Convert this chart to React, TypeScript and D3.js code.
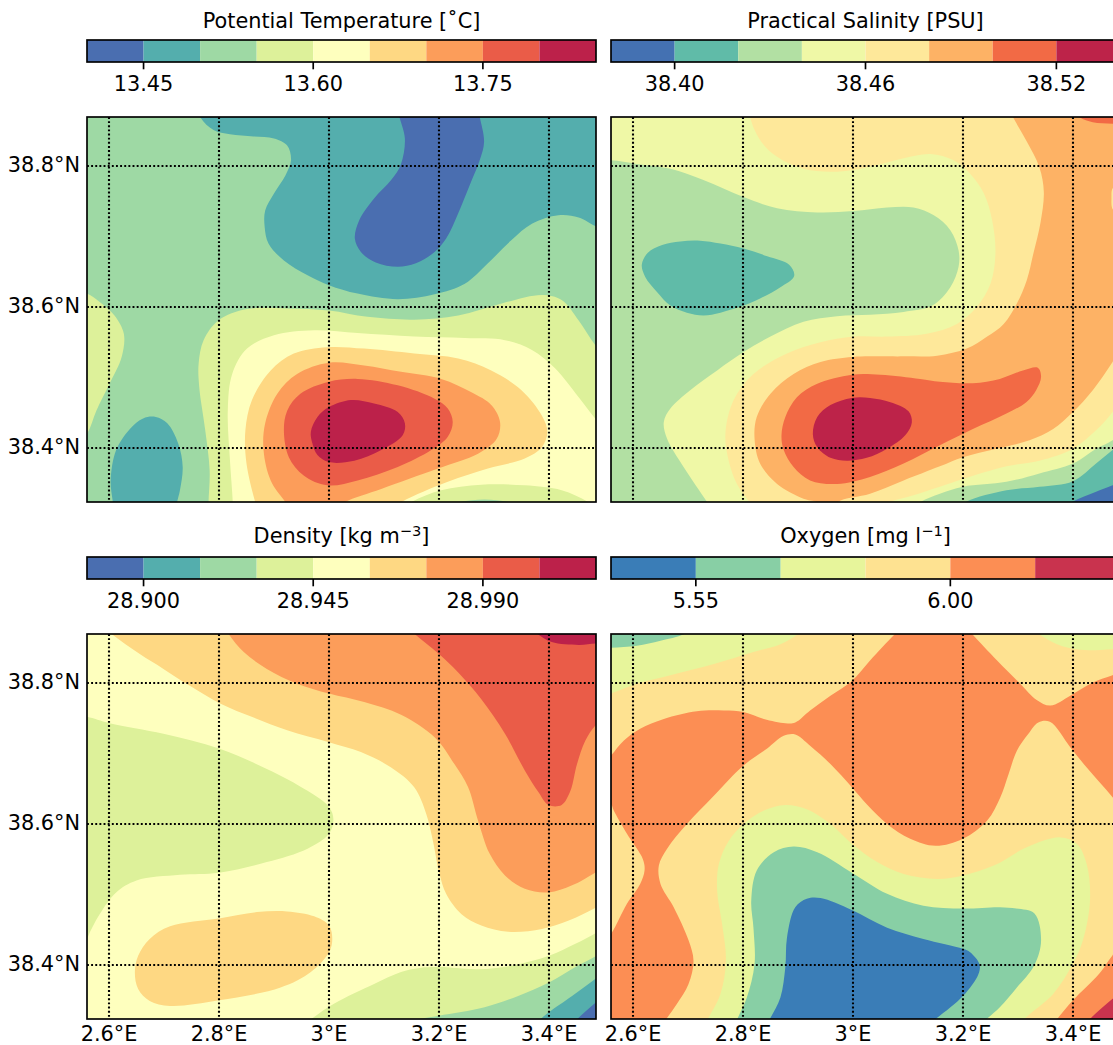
import React from "react";
import * as d3 from "d3";

type Pt = [number, number];

// ---- axis values
const lonTicks = [2.6, 2.8, 3.0, 3.2, 3.4];
const latTicks = [38.4, 38.6, 38.8];
const lonDomain: Pt = [2.56, 3.4855];
const latDomain: Pt = [38.3234, 38.8695];

// ---- colour levels
const spectral9 = ["#4a6eb0", "#54aead", "#9ed9a4", "#ddf19a", "#feffbe", "#fed883", "#fc9d5a", "#ea5c48", "#bc214a"];
const spectral8 = ["#4471b2", "#60bba8", "#b2e0a3", "#eff8a6", "#fee89a", "#fdb265", "#f26a45", "#bd2349"];
const spectral6 = ["#3a7db7", "#88cfa5", "#e7f59b", "#fee291", "#fc8e54", "#c9334e"];

const tempBounds = [13.4, 13.45, 13.5, 13.55, 13.6, 13.65, 13.7, 13.75, 13.8, 13.85];
const tempTicks = [13.45, 13.6, 13.75];
const salBounds = [38.38, 38.4, 38.42, 38.44, 38.46, 38.48, 38.5, 38.52, 38.54];
const salTicks = [38.4, 38.46, 38.52];
const densBounds = [28.885, 28.9, 28.915, 28.93, 28.945, 28.96, 28.975, 28.99, 29.005, 29.02];
const densTicks = [28.9, 28.945, 28.99];
const oxyBounds = [5.4, 5.55, 5.7, 5.85, 6.0, 6.15, 6.3];
const oxyTicks = [5.55, 6.0];

// ---- Potential temperature contours (lon, lat)
const tempTealTop: Pt[] = [[2.745,38.92],[2.766,38.869],[2.79,38.851],[2.82,38.845],[2.863,38.842],[2.9,38.839],[2.924,38.829],[2.931,38.808],[2.921,38.787],[2.9,38.761],[2.884,38.737],[2.883,38.714],[2.89,38.69],[2.918,38.666],[2.961,38.645],[3.0,38.631],[3.052,38.619],[3.125,38.611],[3.192,38.618],[3.247,38.633],[3.289,38.662],[3.332,38.695],[3.369,38.718],[3.417,38.73],[3.454,38.727],[3.487,38.714],[3.55,38.7],[3.55,38.92]];
const tempBlue: Pt[] = [[3.122,38.893],[3.128,38.87],[3.138,38.839],[3.131,38.803],[3.113,38.78],[3.082,38.754],[3.055,38.723],[3.047,38.697],[3.058,38.678],[3.085,38.663],[3.125,38.657],[3.158,38.662],[3.192,38.678],[3.213,38.697],[3.235,38.733],[3.256,38.773],[3.274,38.808],[3.282,38.834],[3.274,38.87],[3.268,38.893]];
const tempLeftEdge: Pt[] = [[2.528,38.624],[2.56,38.619],[2.583,38.607],[2.61,38.588],[2.627,38.562],[2.623,38.529],[2.601,38.491],[2.577,38.453],[2.56,38.42],[2.528,38.39]];
const tempTealLow: Pt[] = [[2.61,38.302],[2.607,38.323],[2.603,38.354],[2.613,38.397],[2.638,38.427],[2.662,38.442],[2.685,38.444],[2.706,38.435],[2.726,38.406],[2.734,38.373],[2.729,38.34],[2.723,38.321],[2.718,38.302]];
const temp13_55: Pt[] = [[2.781,38.297],[2.781,38.323],[2.783,38.368],[2.775,38.425],[2.764,38.487],[2.763,38.52],[2.772,38.553],[2.799,38.581],[2.851,38.597],[2.924,38.598],[3.0,38.595],[3.07,38.586],[3.155,38.582],[3.235,38.588],[3.314,38.605],[3.387,38.617],[3.423,38.61],[3.454,38.581],[3.484,38.546],[3.521,38.51],[3.521,38.297]];
const temp13_60: Pt[] = [[2.825,38.297],[2.825,38.323],[2.82,38.382],[2.816,38.453],[2.824,38.505],[2.851,38.541],[2.9,38.56],[2.973,38.567],[3.052,38.563],[3.155,38.558],[3.247,38.556],[3.32,38.553],[3.369,38.539],[3.411,38.513],[3.454,38.472],[3.484,38.442],[3.521,38.411],[3.521,38.297]];
const temp13_65: Pt[] = [[2.875,38.302],[2.866,38.323],[2.85,38.378],[2.848,38.425],[2.86,38.468],[2.894,38.51],[2.936,38.534],[2.997,38.543],[3.064,38.541],[3.155,38.534],[3.235,38.527],[3.295,38.51],[3.35,38.482],[3.387,38.446],[3.397,38.423],[3.387,38.401],[3.356,38.385],[3.289,38.371],[3.216,38.352],[3.131,38.323],[3.09,38.302]];
const temp13_70: Pt[] = [[2.94,38.302],[2.921,38.323],[2.894,38.354],[2.881,38.397],[2.884,38.435],[2.906,38.477],[2.942,38.505],[3.0,38.521],[3.064,38.517],[3.131,38.508],[3.204,38.498],[3.259,38.479],[3.295,38.461],[3.311,38.437],[3.305,38.413],[3.271,38.392],[3.198,38.371],[3.095,38.342],[3.028,38.323],[2.99,38.302]];
const temp13_75: Pt[] = [[2.918,38.425],[2.924,38.453],[2.948,38.477],[3.0,38.494],[3.052,38.498],[3.125,38.489],[3.192,38.47],[3.216,38.456],[3.225,38.437],[3.216,38.416],[3.186,38.397],[3.125,38.373],[3.052,38.354],[2.997,38.347],[2.954,38.361],[2.927,38.387]];
const temp13_80: Pt[] = [[2.967,38.423],[2.979,38.444],[3.0,38.458],[3.04,38.468],[3.082,38.463],[3.125,38.451],[3.138,38.435],[3.134,38.418],[3.095,38.397],[3.046,38.382],[3.0,38.38],[2.979,38.39],[2.97,38.406]];
const tempBump: Pt[] = [[3.11,38.302],[3.149,38.323],[3.204,38.34],[3.277,38.348],[3.356,38.347],[3.423,38.34],[3.472,38.323],[3.51,38.302]];
const tempBumpCore: Pt[] = [[3.19,38.312],[3.235,38.323],[3.283,38.327],[3.329,38.323],[3.37,38.312]];

// ---- Practical salinity contours
const salGreen: Pt[] = [[2.528,38.808],[2.56,38.808],[2.607,38.803],[2.668,38.796],[2.728,38.78],[2.801,38.756],[2.862,38.74],[2.935,38.734],[3.001,38.736],[3.062,38.741],[3.11,38.741],[3.147,38.73],[3.177,38.709],[3.192,38.68],[3.192,38.657],[3.177,38.628],[3.144,38.602],[3.092,38.593],[3.031,38.589],[2.971,38.587],[2.91,38.579],[2.85,38.558],[2.801,38.536],[2.753,38.51],[2.704,38.482],[2.668,38.456],[2.656,38.437],[2.662,38.413],[2.692,38.373],[2.735,38.323],[2.752,38.302],[2.528,38.302]];
const salTeal: Pt[] = [[2.616,38.66],[2.627,38.677],[2.653,38.688],[2.686,38.693],[2.722,38.694],[2.759,38.69],[2.801,38.683],[2.844,38.672],[2.884,38.66],[2.893,38.644],[2.868,38.628],[2.831,38.612],[2.801,38.602],[2.759,38.592],[2.728,38.588],[2.698,38.592],[2.668,38.602],[2.644,38.621],[2.622,38.643]];
const sal38_46: Pt[] = [[2.813,38.893],[2.813,38.87],[2.831,38.837],[2.862,38.813],[2.91,38.796],[2.971,38.792],[3.031,38.799],[3.092,38.811],[3.141,38.817],[3.183,38.808],[3.213,38.789],[3.238,38.761],[3.253,38.723],[3.259,38.676],[3.25,38.633],[3.225,38.6],[3.189,38.576],[3.134,38.562],[3.062,38.558],[3.001,38.558],[2.941,38.55],[2.88,38.534],[2.819,38.505],[2.783,38.468],[2.768,38.42],[2.774,38.382],[2.789,38.349],[2.813,38.322],[2.83,38.302],[3.02,38.302],[3.062,38.322],[3.11,38.333],[3.158,38.345],[3.2,38.356],[3.279,38.374],[3.339,38.382],[3.4,38.399],[3.442,38.425],[3.472,38.451],[3.516,38.501],[3.516,38.893]];
const sal38_48: Pt[] = [[3.275,38.893],[3.291,38.869],[3.315,38.836],[3.339,38.798],[3.347,38.763],[3.341,38.72],[3.328,38.676],[3.316,38.638],[3.298,38.605],[3.274,38.576],[3.244,38.558],[3.207,38.541],[3.153,38.531],[3.092,38.53],[3.031,38.53],[2.998,38.529],[2.941,38.522],[2.892,38.505],[2.85,38.477],[2.825,38.444],[2.821,38.413],[2.831,38.378],[2.862,38.349],[2.91,38.328],[2.935,38.322],[2.935,38.302],[2.971,38.302],[2.971,38.322],[3.031,38.335],[3.092,38.354],[3.158,38.374],[3.2,38.387],[3.261,38.399],[3.321,38.411],[3.364,38.427],[3.4,38.451],[3.436,38.482],[3.472,38.522],[3.516,38.576],[3.516,38.893]];
const salNotch: Pt[] = [[3.516,38.77],[3.474,38.77],[3.47,38.754],[3.474,38.737],[3.516,38.737]];
const salTopRed: Pt[] = [[3.39,38.886],[3.412,38.869],[3.436,38.862],[3.472,38.86],[3.516,38.86],[3.516,38.886]];
const sal38_50: Pt[] = [[2.87,38.418],[2.877,38.444],[2.898,38.472],[2.935,38.491],[2.998,38.504],[3.05,38.504],[3.122,38.498],[3.158,38.494],[3.218,38.492],[3.267,38.498],[3.309,38.51],[3.336,38.514],[3.342,38.501],[3.333,38.482],[3.315,38.465],[3.279,38.449],[3.218,38.427],[3.158,38.404],[3.092,38.378],[3.031,38.359],[2.971,38.349],[2.922,38.354],[2.892,38.373],[2.874,38.397]];
const sal38_52: Pt[] = [[2.927,38.42],[2.935,38.444],[2.959,38.461],[2.998,38.471],[3.031,38.471],[3.068,38.465],[3.101,38.452],[3.107,38.436],[3.095,38.418],[3.062,38.399],[3.025,38.386],[2.989,38.382],[2.959,38.386],[2.935,38.401]];
const salCornerGreen: Pt[] = [[3.08,38.302],[3.119,38.322],[3.158,38.335],[3.2,38.345],[3.279,38.352],[3.339,38.364],[3.4,38.378],[3.442,38.399],[3.472,38.411],[3.516,38.439],[3.516,38.302]];
const salCornerTeal: Pt[] = [[3.17,38.302],[3.204,38.323],[3.279,38.34],[3.339,38.345],[3.4,38.353],[3.442,38.378],[3.472,38.397],[3.516,38.425],[3.516,38.302]];
const salCornerBlue: Pt[] = [[3.36,38.302],[3.4,38.324],[3.442,38.338],[3.472,38.347],[3.516,38.364],[3.516,38.302]];

// ---- Density contours
const dens28_96: Pt[] = [[2.57,38.893],[2.604,38.87],[2.656,38.841],[2.699,38.82],[2.747,38.796],[2.802,38.771],[2.863,38.751],[2.924,38.733],[3.0,38.716],[3.058,38.702],[3.113,38.68],[3.155,38.652],[3.177,38.614],[3.189,38.576],[3.201,38.529],[3.213,38.501],[3.241,38.472],[3.277,38.456],[3.326,38.447],[3.387,38.451],[3.436,38.463],[3.484,38.481],[3.521,38.496],[3.521,38.893]];
const dens28_975: Pt[] = [[2.8,38.893],[2.817,38.87],[2.845,38.844],[2.887,38.82],[2.942,38.799],[3.0,38.785],[3.064,38.773],[3.131,38.755],[3.192,38.723],[3.228,38.685],[3.253,38.652],[3.271,38.605],[3.292,38.558],[3.32,38.527],[3.356,38.508],[3.399,38.503],[3.442,38.513],[3.484,38.531],[3.521,38.548],[3.521,38.893]];
const dens28_99: Pt[] = [[3.12,38.893],[3.155,38.87],[3.2,38.841],[3.235,38.815],[3.277,38.777],[3.32,38.728],[3.356,38.676],[3.381,38.645],[3.399,38.627],[3.423,38.627],[3.439,38.647],[3.451,38.685],[3.466,38.718],[3.487,38.742],[3.521,38.761],[3.521,38.893]];
const dens29_005: Pt[] = [[3.35,38.886],[3.378,38.87],[3.405,38.858],[3.454,38.854],[3.487,38.856],[3.521,38.856],[3.521,38.886]];
const densLeft: Pt[] = [[2.528,38.756],[2.56,38.752],[2.601,38.743],[2.699,38.728],[2.8,38.707],[2.887,38.678],[2.961,38.647],[3.0,38.624],[3.008,38.607],[3.0,38.586],[2.961,38.565],[2.887,38.546],[2.8,38.531],[2.729,38.528],[2.65,38.52],[2.613,38.503],[2.583,38.472],[2.56,38.437],[2.54,38.39],[2.528,38.39]];
const densBlob: Pt[] = [[2.647,38.39],[2.653,38.413],[2.674,38.437],[2.711,38.455],[2.8,38.466],[2.869,38.475],[2.924,38.476],[2.973,38.469],[3.0,38.456],[3.006,38.437],[3.0,38.418],[2.967,38.39],[2.912,38.368],[2.8,38.35],[2.711,38.342],[2.674,38.349],[2.653,38.366]];
const densLow1: Pt[] = [[2.93,38.302],[2.967,38.323],[3.009,38.345],[3.082,38.373],[3.131,38.39],[3.168,38.396],[3.2,38.397],[3.271,38.394],[3.332,38.399],[3.4,38.413],[3.448,38.43],[3.487,38.446],[3.521,38.463],[3.521,38.302]];
const densLow2: Pt[] = [[3.1,38.312],[3.161,38.323],[3.2,38.328],[3.283,38.34],[3.344,38.356],[3.4,38.375],[3.448,38.397],[3.484,38.412],[3.521,38.43],[3.521,38.302]];
const densLow3: Pt[] = [[3.355,38.302],[3.384,38.323],[3.4,38.333],[3.442,38.356],[3.484,38.38],[3.521,38.401],[3.521,38.302]];
const densLow4: Pt[] = [[3.425,38.302],[3.451,38.323],[3.484,38.346],[3.521,38.368],[3.521,38.302]];

// ---- Oxygen contours
const oxy6_00: Pt[] = [[2.528,38.67],[2.56,38.697],[2.583,38.718],[2.613,38.735],[2.656,38.749],[2.716,38.76],[2.765,38.761],[2.801,38.759],[2.838,38.749],[2.877,38.743],[2.895,38.744],[2.922,38.761],[2.959,38.782],[2.998,38.803],[3.031,38.832],[3.077,38.87],[3.108,38.893],[3.19,38.893],[3.216,38.87],[3.262,38.832],[3.304,38.799],[3.334,38.776],[3.359,38.768],[3.395,38.782],[3.437,38.801],[3.472,38.811],[3.516,38.822],[3.516,38.595],[3.472,38.638],[3.425,38.68],[3.395,38.709],[3.358,38.745],[3.337,38.744],[3.319,38.728],[3.298,38.704],[3.283,38.671],[3.268,38.638],[3.244,38.605],[3.2,38.579],[3.15,38.569],[3.104,38.579],[3.062,38.6],[3.025,38.628],[2.998,38.652],[2.959,38.685],[2.922,38.711],[2.895,38.727],[2.874,38.725],[2.844,38.707],[2.801,38.683],[2.747,38.64],[2.698,38.6],[2.662,38.565],[2.647,38.541],[2.65,38.515],[2.674,38.482],[2.701,38.435],[2.71,38.406],[2.701,38.373],[2.68,38.345],[2.659,38.322],[2.637,38.302],[2.528,38.302],[2.528,38.411],[2.56,38.444],[2.589,38.487],[2.613,38.515],[2.621,38.534],[2.618,38.55],[2.589,38.586],[2.565,38.619],[2.56,38.628],[2.528,38.64]];
const oxyTopLeft: Pt[] = [[2.528,38.777],[2.56,38.785],[2.607,38.799],[2.668,38.811],[2.747,38.827],[2.819,38.844],[2.868,38.855],[2.901,38.87],[2.93,38.893],[2.528,38.893]];
const oxyTopLeftCore: Pt[] = [[2.528,38.848],[2.56,38.85],[2.607,38.853],[2.65,38.86],[2.695,38.87],[2.74,38.893],[2.528,38.893]];
const oxyTopRight: Pt[] = [[3.31,38.886],[3.337,38.87],[3.371,38.855],[3.413,38.847],[3.472,38.848],[3.516,38.851],[3.516,38.886]];
const oxy5_85: Pt[] = [[2.722,38.302],[2.735,38.322],[2.759,38.359],[2.769,38.406],[2.762,38.458],[2.753,38.505],[2.756,38.543],[2.774,38.576],[2.801,38.6],[2.838,38.619],[2.877,38.627],[2.916,38.621],[2.959,38.6],[2.998,38.572],[3.044,38.546],[3.092,38.529],[3.153,38.522],[3.2,38.527],[3.256,38.541],[3.316,38.567],[3.377,38.581],[3.407,38.572],[3.425,38.543],[3.431,38.492],[3.418,38.435],[3.4,38.402],[3.364,38.359],[3.315,38.326],[3.285,38.302]];
const oxy5_70: Pt[] = [[2.78,38.302],[2.789,38.322],[2.807,38.354],[2.821,38.401],[2.819,38.453],[2.815,38.491],[2.825,38.534],[2.856,38.56],[2.892,38.568],[2.935,38.56],[2.998,38.531],[3.062,38.501],[3.128,38.484],[3.2,38.48],[3.267,38.482],[3.297,38.48],[3.33,38.473],[3.342,38.435],[3.33,38.4],[3.298,38.368],[3.267,38.34],[3.241,38.322],[3.212,38.302]];
const oxy5_55: Pt[] = [[2.835,38.302],[2.848,38.322],[2.868,38.354],[2.877,38.397],[2.88,38.439],[2.895,38.482],[2.916,38.494],[2.941,38.495],[2.998,38.478],[3.062,38.453],[3.128,38.437],[3.2,38.423],[3.213,38.418],[3.23,38.401],[3.228,38.387],[3.2,38.356],[3.148,38.322],[3.115,38.302]];
const oxyCorner: Pt[] = [[3.35,38.302],[3.373,38.325],[3.4,38.35],[3.448,38.388],[3.472,38.414],[3.516,38.453],[3.516,38.302]];
const oxyCornerCore: Pt[] = [[3.405,38.302],[3.433,38.325],[3.472,38.352],[3.516,38.378],[3.516,38.302]];

// ---- layers: [colour level, contour], drawn in order
const tempLayers: [number, Pt[]][] = [[1, tempTealTop], [0, tempBlue], [3, tempLeftEdge], [1, tempTealLow], [3, temp13_55], [4, temp13_60], [5, temp13_65], [6, temp13_70], [7, temp13_75], [8, temp13_80], [3, tempBump], [2, tempBumpCore]];
const salLayers: [number, Pt[]][] = [[2, salGreen], [1, salTeal], [4, sal38_46], [5, sal38_48], [4, salNotch], [6, salTopRed], [6, sal38_50], [7, sal38_52], [2, salCornerGreen], [1, salCornerTeal], [0, salCornerBlue]];
const densLayers: [number, Pt[]][] = [[5, dens28_96], [6, dens28_975], [7, dens28_99], [8, dens29_005], [3, densLeft], [5, densBlob], [3, densLow1], [2, densLow2], [1, densLow3], [0, densLow4]];
const oxyLayers: [number, Pt[]][] = [[4, oxy6_00], [2, oxyTopLeft], [1, oxyTopLeftCore], [2, oxyTopRight], [2, oxy5_85], [1, oxy5_70], [0, oxy5_55], [4, oxyCorner], [5, oxyCornerCore]];

const FONT = "'DejaVu Sans', sans-serif";
const FS = 20.83;
const INK = "#000";
const SPINE = 1.67;

function Title({ x, y, name, unit, sup }: { x: number; y: number; name: string; unit: string; sup?: string }) {
  return (
    <text x={x} y={y} textAnchor="middle" fontFamily={FONT} fontSize={FS} fill={INK}>
      {name} [{unit}
      {sup ? (
        <tspan fontSize={14.6} dy={-7.5}>
          {sup}
        </tspan>
      ) : null}
      {sup ? <tspan dy={7.5}>]</tspan> : "]"}
    </text>
  );
}

function Colorbar({ x0, x1, y0, y1, bounds, ticks, colors, digits }: { x0: number; x1: number; y0: number; y1: number; bounds: number[]; ticks: number[]; colors: string[]; digits: number }) {
  const x = d3.scaleLinear().domain([bounds[0], bounds[bounds.length - 1]]).range([x0, x1]);
  const fmt = d3.format(`.${digits}f`);
  return (
    <g>
      {colors.map((c, i) => (
        <rect key={i} x={x(bounds[i])} y={y0} width={x(bounds[i + 1]) - x(bounds[i])} height={y1 - y0} fill={c} />
      ))}
      <rect x={x0} y={y0} width={x1 - x0} height={y1 - y0} fill="none" stroke={INK} strokeWidth={SPINE} />
      {ticks.map((t) => (
        <g key={t}>
          <line x1={x(t)} x2={x(t)} y1={y1} y2={y1 + 7.3} stroke={INK} strokeWidth={SPINE} />
          <text x={x(t)} y={y1 + 28.5} textAnchor="middle" fontFamily={FONT} fontSize={FS} fill={INK}>
            {fmt(t)}
          </text>
        </g>
      ))}
    </g>
  );
}

function MapPanel({ id, x0, x1, y0, y1, layers, colors, base, showLat, showLon }: { id: string; x0: number; x1: number; y0: number; y1: number; layers: [number, Pt[]][]; colors: string[]; base: number; showLat: boolean; showLon: boolean }) {
  const lon = d3.scaleLinear().domain(lonDomain).range([x0, x1]);
  const lat = d3.scaleLinear().domain(latDomain).range([y1, y0]);
  const path = d3
    .line<Pt>()
    .x((d) => lon(d[0]))
    .y((d) => lat(d[1]))
    .curve(d3.curveCatmullRomClosed.alpha(0.5));
  const lonLabel = (v: number) => `${d3.format(".1~f")(v)}°E`;
  const latLabel = (v: number) => `${d3.format(".1f")(v)}°N`;
  return (
    <g>
      <clipPath id={id}>
        <rect x={x0} y={y0} width={x1 - x0} height={y1 - y0} />
      </clipPath>
      <g clipPath={`url(#${id})`}>
        <rect x={x0} y={y0} width={x1 - x0} height={y1 - y0} fill={colors[base]} />
        {layers.map(([lvl, ring], i) => (
          <path key={i} d={path(ring) || ""} fill={colors[lvl]} />
        ))}
        {lonTicks.map((t) => (
          <line key={t} x1={lon(t)} x2={lon(t)} y1={y0} y2={y1} stroke={INK} strokeWidth={2.1} strokeDasharray="1.9 2.24" />
        ))}
        {latTicks.map((t) => (
          <line key={t} x1={x0} x2={x1} y1={lat(t)} y2={lat(t)} stroke={INK} strokeWidth={2.1} strokeDasharray="1.9 2.24" />
        ))}
      </g>
      <rect x={x0} y={y0} width={x1 - x0} height={y1 - y0} fill="none" stroke={INK} strokeWidth={SPINE} />
      {showLat &&
        latTicks.map((t) => (
          <text key={t} x={x0 - 7} y={lat(t) + 6.5} textAnchor="end" fontFamily={FONT} fontSize={FS} fill={INK}>
            {latLabel(t)}
          </text>
        ))}
      {showLon &&
        lonTicks.map((t) => (
          <text key={t} x={lon(t)} y={y1 + 22} textAnchor="middle" fontFamily={FONT} fontSize={FS} fill={INK}>
            {lonLabel(t)}
          </text>
        ))}
    </g>
  );
}

export default function App() {
  const L: Pt = [87, 596];
  const R: Pt = [611, 1120];
  return (
    <svg width={1113} height={1045} viewBox="0 0 1113 1045" style={{ position: "absolute", left: 0, top: 0, background: "#fff" }}>
      <Title x={(L[0] + L[1]) / 2} y={28} name="Potential Temperature" unit="˚C" />
      <Title x={(R[0] + R[1]) / 2} y={28} name="Practical Salinity" unit="PSU" />
      <Title x={(L[0] + L[1]) / 2} y={543} name="Density" unit="kg m" sup="−3" />
      <Title x={(R[0] + R[1]) / 2} y={543} name="Oxygen" unit="mg l" sup="−1" />

      <Colorbar x0={L[0]} x1={L[1]} y0={40} y1={62} bounds={tempBounds} ticks={tempTicks} colors={spectral9} digits={2} />
      <Colorbar x0={R[0]} x1={R[1]} y0={40} y1={62} bounds={salBounds} ticks={salTicks} colors={spectral8} digits={2} />
      <Colorbar x0={L[0]} x1={L[1]} y0={557} y1={579} bounds={densBounds} ticks={densTicks} colors={spectral9} digits={3} />
      <Colorbar x0={R[0]} x1={R[1]} y0={557} y1={579} bounds={oxyBounds} ticks={oxyTicks} colors={spectral6} digits={2} />

      <MapPanel id="p1" x0={L[0]} x1={L[1]} y0={117} y1={502} layers={tempLayers} colors={spectral9} base={2} showLat showLon={false} />
      <MapPanel id="p2" x0={R[0]} x1={R[1]} y0={117} y1={502} layers={salLayers} colors={spectral8} base={3} showLat={false} showLon={false} />
      <MapPanel id="p3" x0={L[0]} x1={L[1]} y0={634} y1={1019} layers={densLayers} colors={spectral9} base={4} showLat showLon />
      <MapPanel id="p4" x0={R[0]} x1={R[1]} y0={634} y1={1019} layers={oxyLayers} colors={spectral6} base={3} showLat={false} showLon />
    </svg>
  );
}
